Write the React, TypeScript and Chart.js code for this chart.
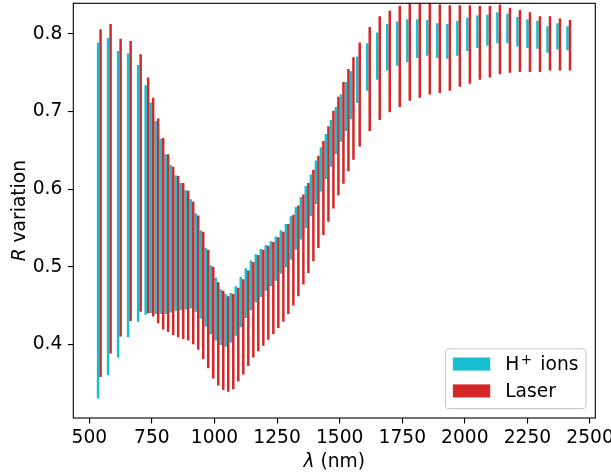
import React, { useEffect, useRef } from "react";
import { Chart, registerables } from "chart.js";

Chart.register(...registerables);

// ---------- data ----------
const H_WAVELENGTH = [
  535, 575, 615, 655, 695, 725, 745, 765, 785, 805, 825, 845, 865, 885, 905, 925, 945, 965, 985, 1005,
  1025, 1045, 1065, 1085, 1105, 1125, 1145, 1165, 1185, 1205, 1225, 1245, 1265, 1285, 1305, 1325, 1345,
  1365, 1385, 1405, 1425, 1445, 1465, 1485, 1505, 1525, 1545, 1570, 1610, 1650, 1690, 1730, 1770, 1810,
  1850, 1890, 1930, 1970, 2010, 2050, 2090, 2130, 2170, 2210, 2250, 2290, 2330, 2370, 2410,
];
const H_LOW = [
  0.330, 0.360, 0.383, 0.409, 0.429, 0.438, 0.440, 0.439, 0.439, 0.439,
  0.441, 0.443, 0.444, 0.445, 0.446, 0.442, 0.433, 0.423, 0.413, 0.405,
  0.399, 0.397, 0.402, 0.411, 0.422, 0.434, 0.444, 0.454, 0.461, 0.469,
  0.475, 0.482, 0.491, 0.499, 0.509, 0.522, 0.535, 0.550, 0.565, 0.581,
  0.597, 0.613, 0.629, 0.645, 0.661, 0.675, 0.690, 0.711, 0.727, 0.741,
  0.753, 0.759, 0.764, 0.769, 0.772, 0.769, 0.768, 0.772, 0.778, 0.782,
  0.785, 0.788, 0.788, 0.784, 0.782, 0.781, 0.776, 0.780, 0.779,
];
const H_HIGH = [
  0.789, 0.795, 0.778, 0.775, 0.760, 0.734, 0.712, 0.688, 0.665, 0.645,
  0.631, 0.618, 0.608, 0.599, 0.587, 0.569, 0.547, 0.524, 0.502, 0.486,
  0.471, 0.465, 0.466, 0.475, 0.487, 0.498, 0.508, 0.516, 0.523, 0.528,
  0.533, 0.539, 0.547, 0.555, 0.565, 0.577, 0.590, 0.604, 0.619, 0.637,
  0.654, 0.671, 0.689, 0.706, 0.722, 0.738, 0.752, 0.771, 0.788, 0.802,
  0.813, 0.816, 0.819, 0.819, 0.818, 0.814, 0.813, 0.817, 0.821, 0.824,
  0.825, 0.828, 0.826, 0.822, 0.819, 0.817, 0.810, 0.814, 0.810,
];
const LASER_WAVELENGTH = [
  545, 585, 625, 665, 705, 735, 755, 775, 795, 815, 835, 855, 875, 895, 915, 935, 955, 975, 995, 1015,
  1035, 1055, 1075, 1095, 1115, 1135, 1155, 1175, 1195, 1215, 1235, 1255, 1275, 1295, 1315, 1335, 1355,
  1375, 1395, 1415, 1435, 1455, 1475, 1495, 1515, 1535, 1555, 1580, 1620, 1660, 1700, 1740, 1780, 1820,
  1860, 1900, 1940, 1980, 2020, 2060, 2100, 2140, 2180, 2220, 2260, 2300, 2340, 2380, 2420,
];
const LASER_LOW = [
  0.358, 0.388, 0.410, 0.430, 0.442, 0.440, 0.436, 0.427, 0.419, 0.416,
  0.412, 0.409, 0.407, 0.405, 0.400, 0.393, 0.381, 0.369, 0.356, 0.347,
  0.341, 0.339, 0.342, 0.352, 0.361, 0.372, 0.383, 0.391, 0.398, 0.406,
  0.413, 0.421, 0.429, 0.439, 0.450, 0.462, 0.477, 0.492, 0.507, 0.524,
  0.541, 0.558, 0.575, 0.592, 0.607, 0.623, 0.638, 0.655, 0.675, 0.689,
  0.699, 0.706, 0.714, 0.718, 0.722, 0.724, 0.727, 0.732, 0.736, 0.741,
  0.744, 0.748, 0.750, 0.751, 0.751, 0.751, 0.753, 0.753, 0.753,
];
const LASER_HIGH = [
  0.806, 0.813, 0.794, 0.791, 0.774, 0.744, 0.718, 0.691, 0.666, 0.645,
  0.629, 0.617, 0.608, 0.598, 0.584, 0.566, 0.545, 0.522, 0.500, 0.480,
  0.469, 0.462, 0.465, 0.473, 0.484, 0.495, 0.506, 0.515, 0.522, 0.527,
  0.532, 0.538, 0.545, 0.555, 0.567, 0.579, 0.593, 0.608, 0.625, 0.643,
  0.662, 0.681, 0.701, 0.719, 0.738, 0.755, 0.770, 0.789, 0.809, 0.823,
  0.830, 0.836, 0.845, 0.846, 0.845, 0.838, 0.837, 0.837, 0.837, 0.836,
  0.836, 0.838, 0.834, 0.831, 0.828, 0.823, 0.823, 0.820, 0.818,
];
const X_TICKS = [500, 750, 1000, 1250, 1500, 1750, 2000, 2250, 2500];
const Y_TICKS = [0.4, 0.5, 0.6, 0.7, 0.8];
const X_MIN = 436;
const X_MAX = 2521;
const Y_MIN = 0.305;
const Y_MAX = 0.8396;

// ---------- style ----------
const W = 611;
const H = 474;
const FAMILY = '"DejaVu Sans", sans-serif';
const FS = 18.67;
const TICK = 5.44;
const LW = 1.1;
const CYAN = "#17becf";
const RED = "#d62728";

type Run = { text: string; font: string; dy?: number; gap?: number };

function runsWidth(ctx: CanvasRenderingContext2D, runs: Run[]) {
  let w = 0;
  for (const r of runs) {
    ctx.font = r.font;
    w += (r.gap || 0) + ctx.measureText(r.text).width;
  }
  return w;
}
function drawRuns(ctx: CanvasRenderingContext2D, runs: Run[], x: number, y: number) {
  let cx = x;
  for (const r of runs) {
    ctx.font = r.font;
    cx += r.gap || 0;
    ctx.fillText(r.text, cx, y + (r.dy || 0));
    cx += ctx.measureText(r.text).width;
  }
}

const REG = `${FS}px ${FAMILY}`;
const ITA = `italic ${FS}px ${FAMILY}`;
const SUP = `${FS * 0.72}px ${FAMILY}`;

const decorPlugin = {
  id: "decor",
  afterDraw(chart: any) {
    const { ctx, chartArea: a } = chart;
    ctx.save();
    // axes frame
    ctx.strokeStyle = "#000";
    ctx.lineWidth = LW;
    ctx.strokeRect(a.left, a.top, a.right - a.left, a.bottom - a.top);

    ctx.fillStyle = "#000";
    ctx.textAlign = "left";
    ctx.textBaseline = "alphabetic";

    // x title
    const xRuns: Run[] = [
      { text: "λ", font: ITA },
      { text: " (nm)", font: REG },
    ];
    const xw = runsWidth(ctx, xRuns);
    drawRuns(ctx, xRuns, (a.left + a.right) / 2 - xw / 2, 466.5);

    // y title
    const yRuns: Run[] = [
      { text: "R", font: ITA },
      { text: " variation", font: REG },
    ];
    const yw = runsWidth(ctx, yRuns);
    ctx.save();
    ctx.translate(24.8, (a.top + a.bottom) / 2);
    ctx.rotate(-Math.PI / 2);
    drawRuns(ctx, yRuns, -yw / 2, 0);
    ctx.restore();

    // legend
    const ds = chart.data.datasets;
    const entries = [
      { runs: [
          { text: "H", font: REG },
          { text: "+", font: SUP, dy: -6.5, gap: 1.5 },
          { text: " ions", font: REG, gap: 2.5 },
        ] as Run[], color: ds[1].backgroundColor },
      { runs: [{ text: ds[0].label, font: REG }] as Run[], color: ds[0].backgroundColor },
    ];
    const textW = Math.max(...entries.map((e) => runsWidth(ctx, e.runs)));
    const bw = 3.6 * FS + textW;
    const bh = 3.21 * FS;
    const right = a.right - 0.5 * FS;
    const bottom = a.bottom - 0.5 * FS;
    const left = right - bw;
    const top = bottom - bh;
    const rr = 0.2 * FS;
    ctx.beginPath();
    ctx.moveTo(left + rr, top);
    ctx.lineTo(right - rr, top);
    ctx.arcTo(right, top, right, top + rr, rr);
    ctx.lineTo(right, bottom - rr);
    ctx.arcTo(right, bottom, right - rr, bottom, rr);
    ctx.lineTo(left + rr, bottom);
    ctx.arcTo(left, bottom, left, bottom - rr, rr);
    ctx.lineTo(left, top + rr);
    ctx.arcTo(left, top, left + rr, top, rr);
    ctx.closePath();
    ctx.fillStyle = "rgba(255,255,255,0.8)";
    ctx.fill();
    ctx.strokeStyle = "#cccccc";
    ctx.lineWidth = LW;
    ctx.stroke();

    const centers = [top + 0.82 * FS, top + 2.26 * FS];
    entries.forEach((e, i) => {
      const cy = centers[i];
      ctx.fillStyle = e.color;
      ctx.fillRect(left + 0.4 * FS, cy - 0.35 * FS, 2 * FS, 0.7 * FS);
      ctx.fillStyle = "#000";
      drawRuns(ctx, e.runs, left + 3.2 * FS, cy + 0.33 * FS);
    });
    ctx.restore();
  },
};

export default function App() {
  const ref = useRef<HTMLCanvasElement>(null);
  useEffect(() => {
    document.body.style.margin = "0";
    const canvas = ref.current;
    if (!canvas) return;
    const chart = new Chart(canvas, {
      type: "bar",
      data: {
        datasets: [
          {
            label: "Laser",
            data: LASER_WAVELENGTH.map((x, i) => ({ x, y: [LASER_LOW[i], LASER_HIGH[i]] })) as any,
            backgroundColor: RED,
            borderWidth: 0,
            barThickness: 2.5,
            grouped: false,
            inflateAmount: 0,
            clip: 0,
            order: 0,
          } as any,
          {
            label: "H⁺ ions",
            data: H_WAVELENGTH.map((x, i) => ({ x, y: [H_LOW[i], H_HIGH[i]] })) as any,
            backgroundColor: CYAN,
            borderWidth: 0,
            barThickness: 2.5,
            grouped: false,
            inflateAmount: 0,
            clip: 0,
            order: 1,
          } as any,
        ],
      },
      options: {
        responsive: false,
        animation: false,
        devicePixelRatio: 1,
        events: [],
        layout: { padding: { left: 0, top: 3.3, right: 15.7, bottom: 0 } },
        plugins: { legend: { display: false }, tooltip: { enabled: false }, title: { display: false } },
        scales: {
          x: {
            type: "linear",
            min: X_MIN,
            max: X_MAX,
            offset: false,
            afterBuildTicks: (s: any) => {
              s.ticks = X_TICKS.map((v) => ({ value: v }));
            },
            afterFit: (s: any) => {
              s.height = H - 418;
              s.paddingLeft = 0;
              s.paddingRight = 0;
            },
            ticks: {
              autoSkip: false,
              maxRotation: 0,
              minRotation: 0,
              padding: 3.4,
              color: "#000",
              font: { family: FAMILY, size: FS },
              callback: (v: any) => String(v),
            },
            grid: {
              display: true,
              offset: false,
              drawOnChartArea: false,
              drawTicks: true,
              tickLength: TICK,
              color: "#000",
              lineWidth: LW,
            },
            border: { display: false },
          },
          y: {
            type: "linear",
            min: Y_MIN,
            max: Y_MAX,
            afterBuildTicks: (s: any) => {
              s.ticks = Y_TICKS.map((v) => ({ value: v }));
            },
            afterFit: (s: any) => {
              s.width = 73.3;
              s.paddingTop = 0;
              s.paddingBottom = 0;
            },
            ticks: {
              autoSkip: false,
              padding: TICK,
              color: "#000",
              font: { family: FAMILY, size: FS },
              callback: (v: any) => Number(v).toFixed(1),
            },
            grid: {
              display: true,
              offset: false,
              drawOnChartArea: false,
              drawTicks: true,
              tickLength: TICK,
              color: "#000",
              lineWidth: LW,
            },
            border: { display: false },
          },
        },
      },
      plugins: [decorPlugin],
    });
    return () => chart.destroy();
  }, []);
  return (
    <div style={{ width: W, height: H, position: "relative", background: "#fff" }}>
      <canvas ref={ref} width={W} height={H} />
    </div>
  );
}
